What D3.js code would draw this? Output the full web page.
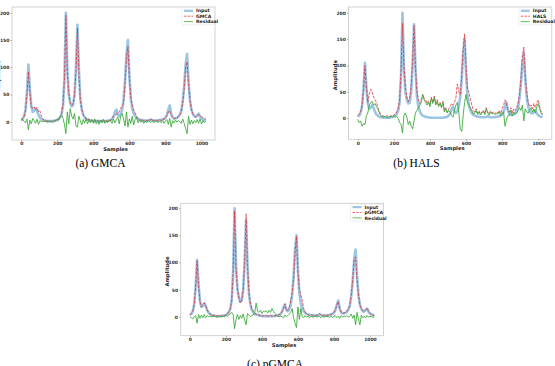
<!DOCTYPE html>
<html>
<head>
<meta charset="utf-8">
<script src="https://d3js.org/d3.v7.min.js"></script>
<style>
  body { margin: 0; background: #fff; }
  svg { display: block; }
</style>
</head>
<body>
<svg width="555" height="366"></svg>
<script>
// Step 1 - data, one value every 8 samples (0..1024)
var step = 8;

var inputSig = [
  3,5,10,22,55,105,60,28,18,20,25,20,12,7,5,3,
  2,2,1,1,1,1,1,2,2,3,5,8,14,30,80,200,
  95,50,35,28,30,50,100,178,95,42,22,13,8,5,4,3,
  2,2,1,1,1,1,1,1,1,1,1,1,2,2,3,5,
  9,18,22,12,10,14,22,40,75,125,150,85,42,24,15,10,
  7,5,4,3,3,2,2,2,2,3,4,3,2,2,2,2,
  3,3,4,5,7,12,22,30,14,8,6,6,7,9,13,20,
  38,65,105,124,75,40,22,14,10,9,12,15,9,6,4,3,
  2];

var gmcaEst = [
  4,6,9,21,50,92,55,28,24,27,22,26,18,20,10,5,
  3,2,1,2,0,1,2,1,3,2,6,9,13,32,78,195,
  90,52,34,30,33,50,92,172,88,40,24,12,9,6,3,5,
  1,3,0,2,1,3,0,2,1,4,0,2,1,3,2,6,
  10,12,14,15,18,25,28,35,70,118,138,80,45,30,22,16,
  10,6,5,2,4,1,3,2,3,2,5,2,3,1,3,2,
  4,2,5,4,8,11,18,20,12,9,5,7,6,10,12,18,
  35,60,100,110,70,40,24,15,12,8,10,13,11,9,8,6,
  5];
var gmcaRes = [
  2,4,1,-2,5,-15,3,-4,6,2,-3,5,-5,2,0,1,
  0,1,-1,0,1,0,-1,1,2,5,3,8,12,6,-5,-22,
  18,-4,24,10,5,15,-8,-10,10,2,-6,4,-3,6,-4,3,
  -2,4,-3,5,-4,2,-5,3,-2,4,-3,1,-2,3,1,-3,
  5,-2,4,8,-4,10,15,5,-8,18,-10,5,-3,10,-6,4,
  8,-2,3,-1,2,-3,1,-2,2,0,-1,2,-2,1,0,-1,
  1,-2,2,-3,1,4,-5,6,-10,2,-2,3,-1,2,0,-3,
  5,-3,-12,-22,10,-5,3,-4,2,-2,4,-3,5,-4,2,-2,
  1];

var halsEst = [
  5,8,12,25,55,100,58,30,45,55,50,40,35,30,20,12,
  8,5,4,3,5,4,3,5,4,6,8,12,18,35,90,180,
  100,60,40,32,38,60,110,176,95,50,35,28,35,45,38,35,
  28,33,25,40,30,42,28,35,25,30,22,32,15,20,12,18,
  22,28,25,30,40,65,50,45,80,130,160,100,55,50,35,25,
  15,12,18,10,14,8,12,15,9,20,12,8,14,10,12,9,
  12,10,15,9,18,25,35,28,15,12,20,10,18,15,20,28,
  45,75,115,135,80,50,30,22,25,18,28,20,30,35,22,12,
  8];
var halsRes = [
  -2,-8,-5,-15,-10,-12,5,10,25,30,32,25,28,22,18,10,
  5,3,2,4,1,3,2,4,3,5,2,4,0,-8,-12,-28,
  5,10,2,-12,-5,-15,-20,-5,10,15,20,25,30,45,35,30,
  25,30,22,38,28,40,25,32,22,28,20,30,12,18,10,15,
  12,5,2,15,25,30,10,-20,-25,5,30,45,30,25,20,15,
  8,10,15,7,12,6,10,13,7,18,10,6,12,8,10,7,
  9,8,12,5,10,12,-15,-2,5,6,15,5,12,8,10,15,
  20,15,25,-5,18,12,10,15,20,12,18,10,22,28,18,10,
  6];

var pgmcaEst = [
  3,6,10,22,55,103,58,28,18,22,25,20,12,8,5,3,
  2,3,1,2,1,2,1,3,2,4,5,9,14,30,78,195,
  92,52,36,25,30,50,100,190,92,45,25,13,10,6,5,4,
  3,2,1,2,1,2,1,1,2,1,1,2,2,3,4,6,
  10,15,24,12,12,18,30,45,70,120,148,82,50,40,30,15,
  8,5,4,3,4,2,3,2,3,4,6,3,2,3,2,2,
  3,4,4,6,8,13,22,28,15,9,6,7,8,10,14,22,
  40,68,108,110,70,40,22,15,11,10,13,16,10,6,4,3,
  2];
var pgmcaRes = [
  0,-2,-4,0,2,-12,4,-3,3,-2,4,-2,2,0,1,0,
  0,1,0,-1,0,1,0,1,0,2,1,3,5,8,4,-22,
  -5,4,-5,2,-3,5,-6,-15,6,3,0,2,3,8,25,10,
  8,12,6,10,9,11,7,12,8,15,10,6,3,1,0,1,
  0,-2,3,0,2,5,8,15,-3,-12,-20,18,-5,15,0,-2,
  2,-1,1,-2,1,0,-1,2,-1,1,0,-2,1,-1,0,1,
  0,-1,1,-2,1,2,-2,1,-3,2,-1,1,0,2,-1,1,
  5,-3,3,-15,8,-5,-15,3,-2,1,-2,2,-1,1,0,-1,
  0];

var xTicks = [0, 200, 400, 600, 800, 1000];
var yTicks = [0, 50, 100, 150, 200];

// Step 2 - panels (frame boxes in px)
var panels = [
  {left: 12, top: 7, right: 215, bottom: 140, yDom: [-33.6, 210.5],
   est: gmcaEst, res: gmcaRes, name: "GMCA", caption: "(a) GMCA", capX: 100.5, capY: 166.5},
  {left: 348.5, top: 7, right: 551.8, bottom: 139.3, yDom: [-39.8, 210.8],
   est: halsEst, res: halsRes, name: "HALS", caption: "(b) HALS", capX: 416.5, capY: 166.5},
  {left: 180.7, top: 203.3, right: 383.5, bottom: 335.7, yDom: [-35.1, 209.2],
   est: pgmcaEst, res: pgmcaRes, name: "pGMCA", caption: "(c) pGMCA", capX: 275, capY: 368}
];

var svg = d3.select("svg");
var blue = "#4a93cc", red = "#e3262e", green = "#34a834";

panels.forEach(function(p) {
  var xScale = d3.scaleLinear().domain([-51, 1075]).range([p.left, p.right]),
      yScale = d3.scaleLinear().domain(p.yDom).range([p.bottom, p.top]);

  var g = svg.append("g");

  // frame
  g.append("rect")
    .attr("x", p.left).attr("y", p.top)
    .attr("width", p.right - p.left).attr("height", p.bottom - p.top)
    .style("fill", "none").style("stroke", "#c8c8c8").style("stroke-width", 0.8);

  // axes
  var xa = g.append("g")
    .attr("transform", "translate(0," + p.bottom + ")")
    .call(d3.axisBottom(xScale).tickValues(xTicks).tickFormat(d3.format("d"))
      .tickSize(1.5).tickPadding(0.8));
  var ya = g.append("g")
    .attr("transform", "translate(" + p.left + ",0)")
    .call(d3.axisLeft(yScale).tickValues(yTicks).tickSize(1.5).tickPadding(1.2));
  [xa, ya].forEach(function(a) {
    a.select(".domain").remove();
    a.selectAll("line").style("stroke", "#777").style("stroke-width", 0.6);
    a.selectAll("text")
      .style("font-family", "DejaVu Sans").style("font-weight", "bold")
      .style("font-size", "4.5px").style("fill", "#333");
  });

  // axis labels
  g.append("text")
    .attr("x", (p.left + p.right) / 2 + 2)
    .attr("y", p.bottom + 11)
    .attr("text-anchor", "middle")
    .style("font-family", "DejaVu Sans").style("font-weight", "bold")
    .style("font-size", "5.2px").style("fill", "#222")
    .text("Samples");
  g.append("text")
    .attr("text-anchor", "middle")
    .attr("transform", "translate(" + (p.left - 12) + "," + ((p.top + p.bottom) / 2 + 2) + ")rotate(-90)")
    .style("font-family", "DejaVu Sans").style("font-weight", "bold")
    .style("font-size", "5.2px").style("fill", "#222")
    .text("Amplitude");

  // lines
  var line = d3.line()
    .x(function(d, i) { return xScale(i * step); })
    .y(function(d) { return yScale(d); });

  g.append("path").datum(inputSig).attr("d", line)
    .style("fill", "none").style("stroke", blue).style("stroke-opacity", 0.55)
    .style("stroke-width", 2.6).style("stroke-linejoin", "round");
  g.append("path").datum(p.est).attr("d", line)
    .style("fill", "none").style("stroke", red).style("stroke-opacity", 0.75)
    .style("stroke-width", 1).style("stroke-dasharray", "3,1.2");
  g.append("path").datum(p.res).attr("d", line)
    .style("fill", "none").style("stroke", green).style("stroke-opacity", 0.85)
    .style("stroke-width", 1);

  // legend
  var lx = p.right - 33, ly = p.top + 0.8;
  g.append("rect")
    .attr("x", lx).attr("y", ly).attr("width", 32.3).attr("height", 17).attr("rx", 1)
    .style("fill", "#fff").style("fill-opacity", 0.85)
    .style("stroke", "#ddd").style("stroke-width", 0.5);
  var items = [
    {label: "Input", color: blue, w: 2.2, op: 0.55, dash: null},
    {label: p.name, color: red, w: 0.9, op: 0.8, dash: "2.5,1.2"},
    {label: "Residual", color: green, w: 0.9, op: 0.85, dash: null}
  ];
  items.forEach(function(it, k) {
    var yy = ly + 3 + k * 5.4;
    g.append("line")
      .attr("x1", lx + 2).attr("x2", lx + 11).attr("y1", yy).attr("y2", yy)
      .style("stroke", it.color).style("stroke-width", it.w).style("stroke-opacity", it.op)
      .style("stroke-dasharray", it.dash);
    g.append("text")
      .attr("x", lx + 14).attr("y", yy + 1.6)
      .style("font-family", "DejaVu Sans").style("font-weight", "bold")
      .style("font-size", "4.6px").style("fill", "#222")
      .text(it.label);
  });

  // caption
  svg.append("text")
    .attr("x", p.capX).attr("y", p.capY)
    .attr("text-anchor", "middle")
    .style("font-family", "Liberation Serif")
    .style("font-size", "11.5px").style("fill", "#000")
    .text(p.caption);
});
</script>
</body>
</html>
